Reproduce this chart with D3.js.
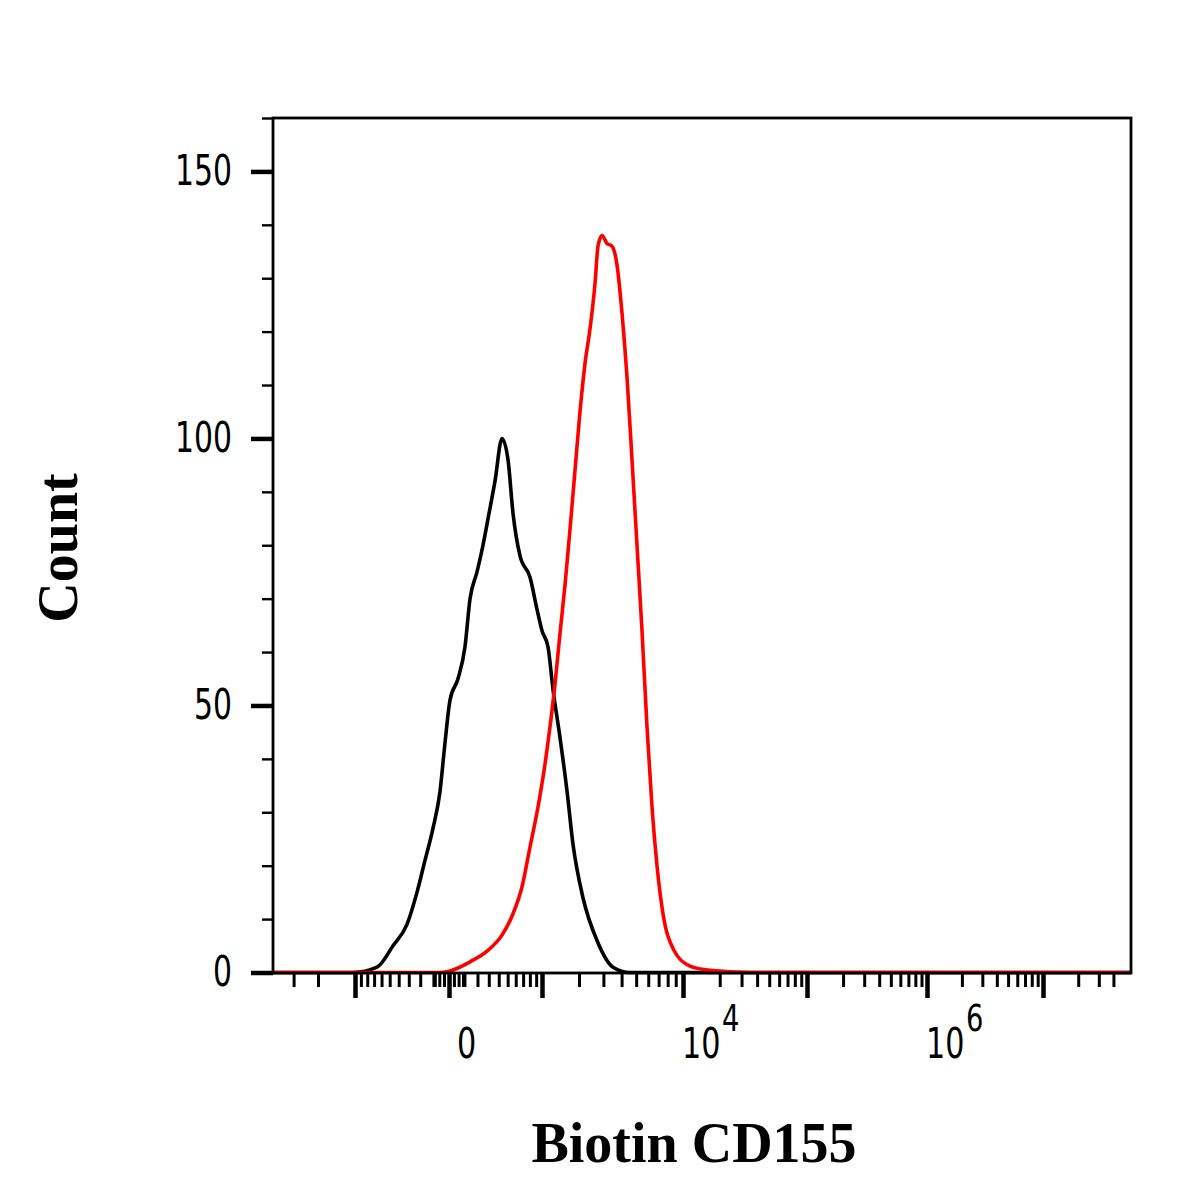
<!DOCTYPE html>
<html><head><meta charset="utf-8">
<script src="https://cdn.jsdelivr.net/npm/d3@7"></script>
<style>body{margin:0;background:#fff}</style>
</head><body>
<svg id="chart" width="1200" height="1200"></svg>
<script>
// ---- data (fluorescence intensity vs. count) ----
const blackX = [-4150, -1042, -660, -462, -317, -227, -162, -103, -55, -24, 6, 56, 104, 141, 196, 247, 293, 361, 435, 504, 565, 657, 802, 914, 1000, 1129, 1246, 1423, 1618, 1801, 2141, 2704, 3496, 4553, 56500000];
const blackY = [0, 0, 1, 5, 9, 15, 21, 27, 34, 43, 51, 55, 61, 70, 75, 80, 85, 92, 100, 96, 86, 78, 74, 68, 64, 61, 53, 44, 34, 24, 14, 6, 1, 0, 0];
const redX = [-4150, -75, 6, 141, 283, 435, 565, 684, 802, 931, 1063, 1175, 1295, 1423, 1560, 1708, 1865, 2034, 2215, 2409, 2617, 2749, 2933, 3178, 3441, 3723, 4024, 4348, 4695, 5065, 5463, 5889, 6345, 6834, 7468, 8647, 11430, 16667, 35085, 56500000];
const redY = [0, 0, 0.3, 2, 4, 7, 11, 16, 23.5, 31, 39, 46, 54, 63.5, 72.5, 83, 94, 105, 114, 120.5, 129, 136, 138, 136.5, 136, 132.5, 123.5, 111.5, 96, 80, 64, 46, 31, 20, 11, 4.5, 1.2, 0.4, 0, 0];

const yTickValues = d3.range(0, 161, 10);
const yLabelTicks = [0, 50, 100, 150];
const xMajorTicks = [-1000, 0, 1000, 1e4, 1e5, 1e6, 1e7];
const xLabelTicks = [0, 1e4, 1e6];
const xLabelBase = ["0", "10", "10"];
const xLabelExp = ["", "4", "6"];
const xTitle = "Biotin CD155";
const yTitle = "Count";

// ---- layout ----
const L = 273, R = 1131, T = 118, B = 973;
const svg = d3.select("#chart");
svg.append("rect").attr("width", 1200).attr("height", 1200).attr("fill", "#fff");

// biexponential-like axis: piecewise symlog
const xs = d3.scaleSymlog().constant(500)
  .domain([-1e4, -1e3, 0, 1e3, 1e4, 1e5, 1e6, 1e7, 1e8])
  .range([214, 355, 449, 542, 683, 807, 927, 1043, 1160]);
const ys = d3.scaleLinear().domain([0, 160]).range([972.5, 118]);

// minor x ticks
const xMinor = [];
for (let k = 1; k <= 7; k++) {
  for (let m = 1; m <= 9; m++) {
    const v = m * Math.pow(10, k);
    if (xMajorTicks.includes(v)) continue;
    if (k === 1 && m % 3 !== 0) continue;
    xMinor.push(v);
    if (k <= 3) xMinor.push(-v);
  }
}
const inPlot = v => { const p = xs(v); return p > 280 && p < 1122; };

const lab = "'DejaVu Sans Condensed','DejaVu Sans',sans-serif";
const DIGIT_W = 19;

// x axis minor
const gxm = svg.append("g").attr("transform", `translate(0,${B})`)
  .call(d3.axisBottom(xs).tickValues(xMinor.filter(inPlot)).tickSize(14).tickFormat(""));
gxm.select(".domain").remove();
gxm.selectAll("line").attr("stroke", "#000").attr("stroke-width", 3);
// x axis major
const gxM = svg.append("g").attr("transform", `translate(0,${B})`)
  .call(d3.axisBottom(xs).tickValues(xMajorTicks).tickSize(25).tickFormat(""));
gxM.select(".domain").remove();
gxM.selectAll("line").attr("stroke", "#000").attr("stroke-width", 4.5);

// x labels (one text element each, base + superscript)
xLabelTicks.forEach((v, i) => {
  const x0 = xs(v) + (v === 0 ? 8 : -1);
  const t = svg.append("text")
    .attr("transform", `translate(${x0},1058) scale(0.8,1)`)
    .attr("font-family", lab).attr("font-size", 42).attr("fill", "#000");
  t.append("tspan").text(xLabelBase[i]);
  if (xLabelExp[i]) t.append("tspan").attr("dx", 2).attr("dy", -27).attr("font-size", 38).text(xLabelExp[i]);
});

// y axis minor
const gym = svg.append("g").attr("transform", `translate(${L},0)`)
  .call(d3.axisLeft(ys).tickValues(yTickValues.filter(v => !yLabelTicks.includes(v))).tickSize(11).tickFormat(""));
gym.select(".domain").remove();
gym.selectAll("line").attr("stroke", "#000").attr("stroke-width", 2.4);
// y axis major
const gyM = svg.append("g").attr("transform", `translate(${L},0)`)
  .call(d3.axisLeft(ys).tickValues(yLabelTicks).tickSize(22).tickPadding(19).tickFormat(d3.format("d")));
gyM.select(".domain").remove();
gyM.selectAll("line").attr("stroke", "#000").attr("stroke-width", 4.5);
gyM.selectAll("text").attr("font-family", lab).attr("font-size", 42).attr("fill", "#000")
  .attr("textLength", d => DIGIT_W * String(d).length).attr("lengthAdjust", "spacingAndGlyphs");

// curves
svg.append("clipPath").attr("id", "clip").append("rect")
  .attr("x", L).attr("y", T).attr("width", R - L).attr("height", B - T + 2);
const line = d3.line().x(d => xs(d[0])).y(d => ys(d[1])).curve(d3.curveMonotoneX);
const gp = svg.append("g").attr("clip-path", "url(#clip)");
gp.append("path").datum(blackX.map((x, i) => [x, blackY[i]]))
  .attr("d", line).attr("fill", "none").attr("stroke", "#000").attr("stroke-width", 3.6).attr("stroke-linejoin", "round");
gp.append("path").datum(redX.map((x, i) => [x, redY[i]]))
  .attr("d", line).attr("fill", "none").attr("stroke", "#ff0000").attr("stroke-width", 3.6).attr("stroke-linejoin", "round");

// frame
svg.append("rect").attr("x", L).attr("y", T).attr("width", R - L).attr("height", B - T)
  .attr("fill", "none").attr("stroke", "#000").attr("stroke-width", 2.8);

// titles
svg.append("text").attr("x", 694).attr("y", 1162).attr("text-anchor", "middle")
  .attr("font-family", "'Liberation Serif','Times New Roman',serif").attr("font-weight", "bold")
  .attr("font-size", 56).attr("fill", "#000").text(xTitle);
svg.append("text").attr("transform", "translate(77,548) rotate(-90)").attr("text-anchor", "middle")
  .attr("font-family", "'Liberation Serif','Times New Roman',serif").attr("font-weight", "bold")
  .attr("font-size", 56).attr("fill", "#000").text(yTitle);
</script>
</body></html>
